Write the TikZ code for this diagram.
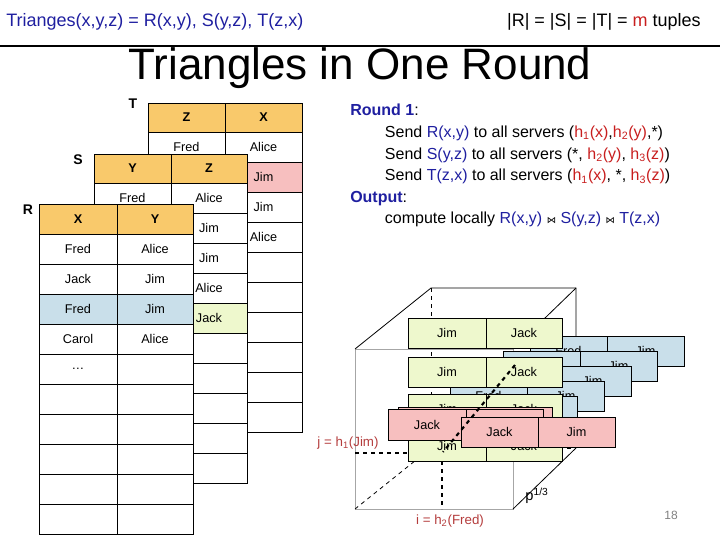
\documentclass[tikz,border=0pt]{standalone}
\usepackage{fontspec}
\setmainfont{Liberation Sans}
\newfontfamily\djv{DejaVu Sans}
\definecolor{hdr}{HTML}{F9C96B}
\definecolor{bl}{HTML}{C9DFEA}
\definecolor{gr}{HTML}{EEF8CD}
\definecolor{pk}{HTML}{F7BFBF}
\definecolor{tb}{HTML}{1F1FA0}
\definecolor{tr}{HTML}{C81E1E}
\definecolor{lr}{HTML}{B43C3C}
\newcommand\cb[7]{\draw[cellline,fill=#6] (#2,#3) rectangle (#4,#5) node[midway,cellt] (#1) {#7};}
\newcommand\joinsym{{\djv\scriptsize ⋈}}
\newcommand\sbs[1]{\textsubscript{#1}}
\begin{document}
\begin{tikzpicture}[x=0.75pt,y=-0.75pt,
  cellline/.style={draw=black,line width=0.65pt},
  cellt/.style={font=\fontsize{9.5}{11}\selectfont,inner sep=0},
  lbl/.style={font=\fontsize{10.5}{12}\selectfont\bfseries,inner sep=0}]
\useasboundingbox (0,0) rectangle (720,540);
% header
\node[anchor=west,text=tb,font=\fontsize{13.5}{15}\selectfont,inner sep=0] (h1) at (6,22) {Trianges(x,y,z) = R(x,y), S(y,z), T(z,x)};
\node[anchor=east,font=\fontsize{13.5}{15}\selectfont,inner sep=0] (h2) at (701,22) {|R| = |S| = |T| = \textcolor{tr}{m} tuples};
\draw[line width=1.5pt] (0,46) -- (720,46);
\node[font=\fontsize{33}{36}\selectfont,inner sep=0] (title) at (360,68) {Triangles in One Round};
% table T
\cb{tz}{148}{103}{225}{132}{hdr}{\textbf{Z}}
\cb{tx}{225}{103}{302}{132}{hdr}{\textbf{X}}
\cb{t1a}{148}{132}{225}{162}{white}{Fred}
\cb{t1b}{225}{132}{302}{162}{white}{Alice}
\cb{t2a}{148}{162}{225}{192}{pk}{}
\cb{t2b}{225}{162}{302}{192}{pk}{Jim}
\cb{t3a}{148}{192}{225}{222}{white}{}
\cb{t3b}{225}{192}{302}{222}{white}{Jim}
\cb{t4a}{148}{222}{225}{252}{white}{}
\cb{t4b}{225}{222}{302}{252}{white}{Alice}
\foreach \r in {252,282,...,402}{\draw[cellline,fill=white] (148,\r) rectangle (302,\r+30); \draw[cellline] (225,\r) -- (225,\r+30);}
\node[lbl] (lT) at (133,104) {T};
% table S
\cb{sy}{94}{154}{171}{183}{hdr}{\textbf{Y}}
\cb{sz}{171}{154}{247}{183}{hdr}{\textbf{Z}}
\cb{s1a}{94}{183}{171}{213}{white}{Fred}
\cb{s1b}{171}{183}{247}{213}{white}{Alice}
\cb{s2a}{94}{213}{171}{243}{white}{}
\cb{s2b}{171}{213}{247}{243}{white}{Jim}
\cb{s3a}{94}{243}{171}{273}{white}{}
\cb{s3b}{171}{243}{247}{273}{white}{Jim}
\cb{s4a}{94}{273}{171}{303}{white}{}
\cb{s4b}{171}{273}{247}{303}{white}{Alice}
\cb{s5a}{94}{303}{171}{333}{gr}{}
\cb{s5b}{171}{303}{247}{333}{gr}{Jack}
\foreach \r in {333,363,...,453}{\draw[cellline,fill=white] (94,\r) rectangle (247,\r+30); \draw[cellline] (171,\r) -- (171,\r+30);}
\node[lbl] (lS) at (78,160) {S};
% table R
\cb{rx}{39}{204}{117}{234}{hdr}{\textbf{X}}
\cb{ry}{117}{204}{193}{234}{hdr}{\textbf{Y}}
\cb{r1a}{39}{234}{117}{264}{white}{Fred}
\cb{r1b}{117}{234}{193}{264}{white}{Alice}
\cb{r2a}{39}{264}{117}{294}{white}{Jack}
\cb{r2b}{117}{264}{193}{294}{white}{Jim}
\cb{r3a}{39}{294}{117}{324}{bl}{Fred}
\cb{r3b}{117}{294}{193}{324}{bl}{Jim}
\cb{r4a}{39}{324}{117}{354}{white}{Carol}
\cb{r4b}{117}{324}{193}{354}{white}{Alice}
\cb{r5a}{39}{354}{117}{384}{white}{\dots}
\cb{r5b}{117}{354}{193}{384}{white}{}
\foreach \r in {384,414,...,504}{\draw[cellline,fill=white] (39,\r) rectangle (193,\r+30); \draw[cellline] (117,\r) -- (117,\r+30);}
\node[lbl] (lR) at (28,210) {R};
% round text
\node[anchor=north west,align=left,inner sep=0,font=\fontsize{12}{16.2}\selectfont] (round) at (350,104) {%
\textcolor{tb}{\textbf{Round 1}}:\\
\hspace*{26pt}Send \textcolor{tb}{R(x,y)} to all servers (\textcolor{tr}{h\sbs{1}(x)},\textcolor{tr}{h\sbs{2}(y)},*)\\
\hspace*{26pt}Send \textcolor{tb}{S(y,z)} to all servers (*, \textcolor{tr}{h\sbs{2}(y)}, \textcolor{tr}{h\sbs{3}(z)})\\
\hspace*{26pt}Send \textcolor{tb}{T(z,x)} to all servers (\textcolor{tr}{h\sbs{1}(x)}, *, \textcolor{tr}{h\sbs{3}(z)})\\
\textcolor{tb}{\textbf{Output}}:\\
\hspace*{26pt}compute locally \textcolor{tb}{R(x,y)} \joinsym{} \textcolor{tb}{S(y,z)} \joinsym{} \textcolor{tb}{T(z,x)}};
% cube
\draw[gray!70,line width=0.6pt] (355,349) rectangle (513,509);
\draw[line width=0.6pt] (355,349) -- (431,288) -- (576,288) -- (576,448);
\draw[line width=0.6pt] (513,349) -- (576,288);
\draw[line width=0.6pt] (513,509) -- (576,448);
\draw[dashed,line width=0.6pt] (431,288) -- (431,448) -- (576,448);
\draw[dashed,line width=0.6pt] (355,509) -- (431,448);
% blue boxes
\foreach \i/\xr/\yt/\ta/\tb in {1/684/336/Fred/Jim,2/657/351/Jim/Jim,3/631/366/Jim/Jim,4/604/381/Fred/Jim,5/577/396/Fred/Jim}{
  \cb{b\i a}{\xr-154}{\yt}{\xr-77}{\yt+30}{bl}{\ta}
  \cb{b\i b}{\xr-77}{\yt}{\xr}{\yt+30}{bl}{\tb}
}
% green boxes
\foreach \i/\yt in {1/318,2/357,3/394,4/431}{
  \cb{g\i a}{408}{\yt}{486}{\yt+30}{gr}{Jim}
  \cb{g\i b}{486}{\yt}{562}{\yt+30}{gr}{Jack}
}
% pink boxes
\cb{p0b}{398}{407}{552}{437}{pk}{}
\cb{p1a}{388}{409}{466}{440}{pk}{Jack}
\cb{p1b}{466}{409}{543}{440}{pk}{}
\cb{p2a}{461}{417}{538}{447}{pk}{Jack}
\cb{p2b}{538}{417}{615}{447}{pk}{Jim}
% dashed markers
\coordinate (d1) at (515,365);
\coordinate (d2) at (443,452);
\draw[dashed,line width=1.6pt] (d1) -- (d2);
\draw[dashed,line width=1.2pt] (355,453) -- (408,453);
\draw[dashed,line width=1.2pt] (442,461) -- (442,509);
\node[text=lr,font=\fontsize{10}{12}\selectfont,inner sep=0] (jl) at (348,443) {j = h\sbs{1}(Jim)};
\node[text=lr,font=\fontsize{10}{12}\selectfont,inner sep=0] (il) at (450,521) {i = h\sbs{2}(Fred)};
\node[font=\fontsize{11}{12}\selectfont,inner sep=0] (pl) at (537,496) {p\textsuperscript{1/3}};
\node[text=gray,font=\fontsize{9}{11}\selectfont,inner sep=0] (pg) at (671,515) {18};
\end{tikzpicture}
\end{document}
